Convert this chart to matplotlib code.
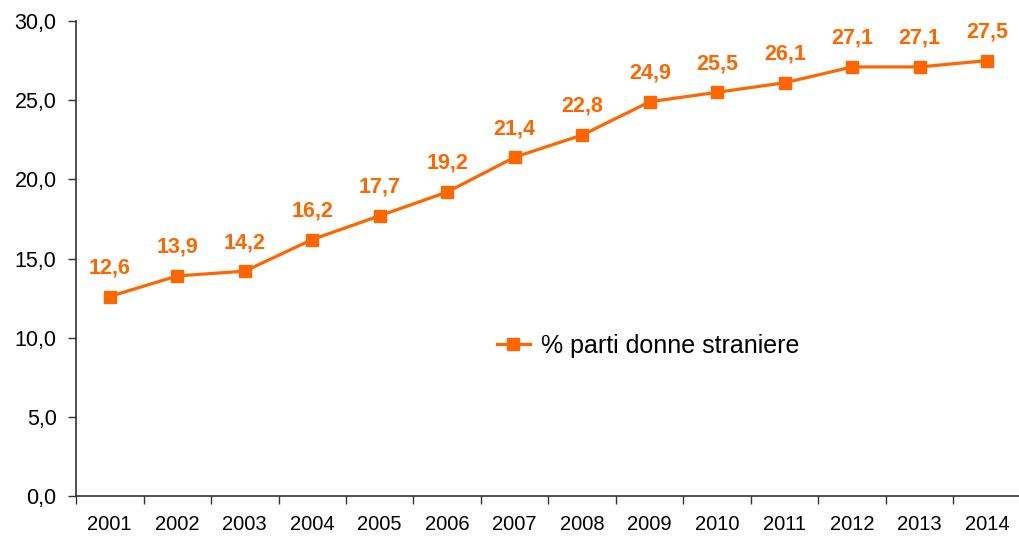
import matplotlib.pyplot as plt
from matplotlib.ticker import FixedLocator, NullFormatter

plt.rcParams['font.family'] = ['Liberation Sans', 'DejaVu Sans']

anni = ['2001', '2002', '2003', '2004', '2005', '2006', '2007',
        '2008', '2009', '2010', '2011', '2012', '2013', '2014']
perc_straniere = [12.6, 13.9, 14.2, 16.2, 17.7, 19.2, 21.4,
                  22.8, 24.9, 25.5, 26.1, 27.1, 27.1, 27.5]
y_ticks = [0, 5, 10, 15, 20, 25, 30]

arancio = '#FF6600'

fig = plt.figure(figsize=(10.19, 5.39), dpi=100)
ax = fig.add_axes([76 / 1019, (539 - 496) / 539, (1021 - 76) / 1019, (496 - 21) / 539])

x = list(range(len(anni)))
ax.plot(x, perc_straniere, color=arancio, lw=2.3, marker='s', ms=9,
        label='% parti donne straniere', clip_on=False)

for xi, v in zip(x, perc_straniere):
    ax.annotate(f'{v:.1f}'.replace('.', ','), (xi, v), xytext=(0, 13),
                textcoords='offset points', ha='center', va='bottom',
                fontsize=15.5, fontweight='bold', color=arancio)

ax.set_xlim(-0.5, len(anni) - 0.5)
ax.set_ylim(0, 30)
ax.set_yticks(y_ticks)
ax.set_yticklabels([f'{t:.1f}'.replace('.', ',') for t in y_ticks])
ax.set_xticks(x)
ax.set_xticklabels(anni)
ax.xaxis.set_minor_locator(FixedLocator([i - 0.5 for i in range(len(anni) + 1)]))
ax.xaxis.set_minor_formatter(NullFormatter())
ax.tick_params(axis='x', which='major', length=0, pad=14, labelsize=14.5)
ax.tick_params(axis='x', which='minor', length=6, width=1, color='#333333', direction='out')
ax.tick_params(axis='y', length=6, width=1, color='#333333', direction='out', pad=8, labelsize=15.5)

for s in ['top', 'right']:
    ax.spines[s].set_visible(False)
for s in ['left', 'bottom']:
    ax.spines[s].set_color('#333333')
    ax.spines[s].set_linewidth(1.2)

ax.legend(loc='center left', bbox_to_anchor=(0.435, 0.316), frameon=False,
          fontsize=18, handlelength=1.3, handletextpad=0.45, borderaxespad=0)

fig.savefig('out.png', dpi=100)
